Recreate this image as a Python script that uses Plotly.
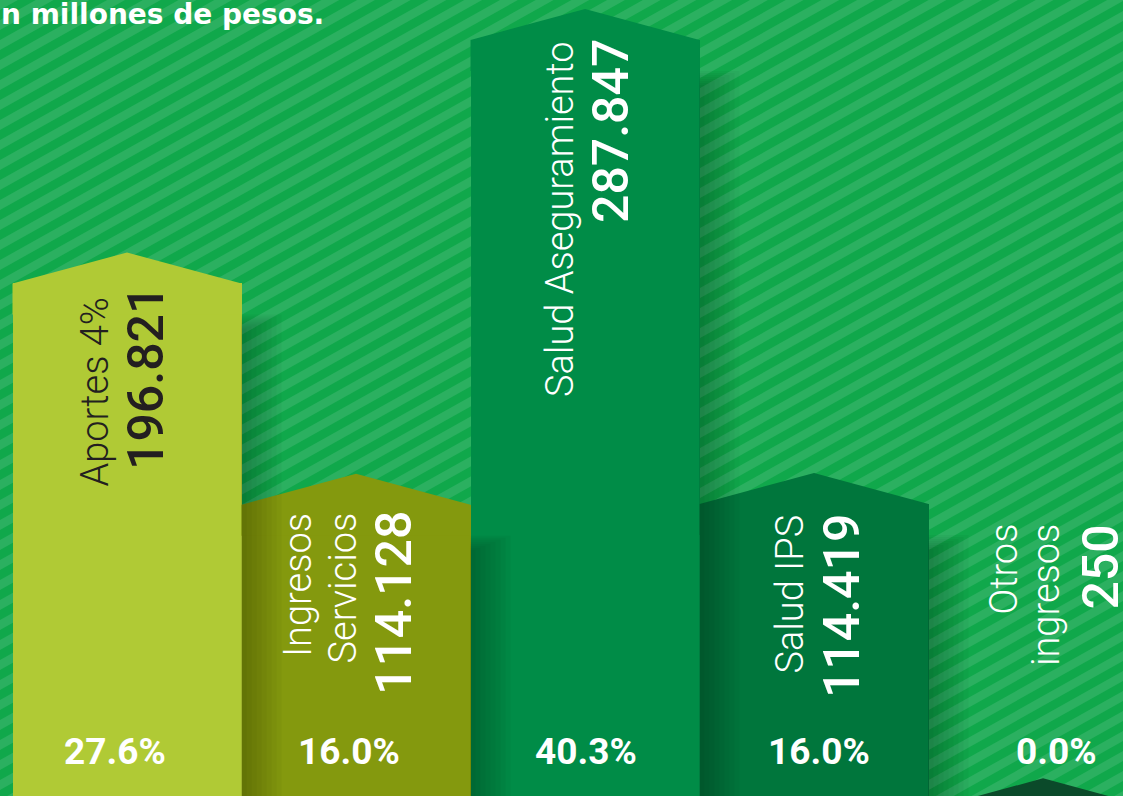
import plotly.graph_objects as go

# ---------------- data ----------------
categories = ["Aportes 4%", "Ingresos Servicios", "Salud Aseguramiento", "Salud IPS", "Otros ingresos"]
label_lines = [["Aportes 4%"], ["Ingresos", "Servicios"], ["Salud Aseguramiento"], ["Salud IPS"], ["Otros", "ingresos"]]
values = [196821, 114128, 287847, 114419, 250]
value_labels = ["196.821", "114.128", "287.847", "114.419", "250"]
shares = ["27.6%", "16.0%", "40.3%", "16.0%", "0.0%"]
title_text = "n millones de pesos."

# ---------------- styles / layout constants ----------------
bar_colors = ["#b0ca35", "#84990e", "#008c47", "#00763c", "#0b4a2a"]
text_colors = ["#231f20", "#ffffff", "#ffffff", "#ffffff", "#ffffff"]
BG_DARK = "#10a84b"
BG_LIGHT = "#2bb060"

W, H = 1123, 796
X_RANGE = [-0.5546, 4.349]
Y_RANGE = [5230, 302800]
UX = (X_RANGE[1] - X_RANGE[0]) / W   # data units per pixel (x)
UY = (Y_RANGE[1] - Y_RANGE[0]) / H   # data units per pixel (y)
ROOF = 31 * UY

# text placement (pixels relative to bar centre / from top)
label_dx = [[-33], [-58, -14], [-25], [-25], [-40, 3]]
number_dx = [19, 38, 26, 28, 57]
label_top = [297, 512, 40, 514, 523]
number_top = [285, 510, 38, 513, 524]
pct_dx = [-12, -7, 1, 5, 13]
PCT_Y = 751

xs = list(range(len(values)))

fig = go.Figure()

# bars
fig.add_trace(go.Bar(
    x=xs, y=values, width=1.0,
    marker=dict(color=bar_colors, line=dict(width=0)),
    hoverinfo="skip", showlegend=False,
))

# roofs (pointed tops)
for i, v in enumerate(values):
    fig.add_trace(go.Scatter(
        x=[i - 0.5, i - 0.5, i, i + 0.5, i + 0.5],
        y=[v - ROOF, v, v + ROOF, v, v - ROOF],
        fill="toself", fillcolor=bar_colors[i], mode="lines",
        line=dict(width=0), hoverinfo="skip", showlegend=False,
    ))

shapes = []

# diagonal stripes background
m = 0.56
P = 20.0
h = 10.0
parts = []
k = -2
while True:
    b = k * P
    if b - m * W > H + P:
        break
    pts = [(0, b), (W, b - m * W), (W, b - m * W + h), (0, b + h)]
    s = "M" + " L".join(f"{px / W:.5f},{1 - py / H:.5f}" for px, py in pts) + " Z"
    parts.append(s)
    k += 1
shapes.append(dict(type="path", xref="paper", yref="paper", path=" ".join(parts),
                   fillcolor=BG_LIGHT, line=dict(width=0), layer="below"))

# soft shadows to the right of each bar
for i, v in enumerate(values):
    top = v - ROOF
    if top <= Y_RANGE[0]:
        continue
    for j in range(1, 9):
        w = 5 * j
        shapes.append(dict(type="rect", xref="x", yref="y",
                           x0=i + 0.5, x1=i + 0.5 + w * UX,
                           y0=0, y1=top - (8 - j) * 2 * UY,
                           fillcolor="rgba(0,0,0,0.03)", line=dict(width=0), layer="above"))

annotations = []
label_font = dict(family="Roboto", size=38, weight=300)
number_font = dict(family="Roboto", size=50, weight=500)

for i in xs:
    for line, dx in zip(label_lines[i], label_dx[i]):
        annotations.append(dict(
            text=line, x=i + dx * UX, xref="x", y=1 - label_top[i] / H, yref="paper",
            xanchor="center", yanchor="top", textangle=-90, showarrow=False,
            borderpad=0, font=dict(color=text_colors[i], **label_font)))
    annotations.append(dict(
        text=value_labels[i], x=i + number_dx[i] * UX, xref="x", y=1 - number_top[i] / H, yref="paper",
        xanchor="center", yanchor="top", textangle=-90, showarrow=False,
        borderpad=0, font=dict(color=text_colors[i], **number_font)))
    annotations.append(dict(
        text=shares[i], x=i + pct_dx[i] * UX, xref="x", y=1 - PCT_Y / H, yref="paper",
        xanchor="center", yanchor="middle", showarrow=False, borderpad=0,
        font=dict(family="Roboto", size=37, weight=700, color="#ffffff")))

annotations.append(dict(
    text=title_text, x=0, xref="paper", y=1 - 15 / H, yref="paper",
    xanchor="left", yanchor="middle", showarrow=False, borderpad=0,
    font=dict(family="DejaVu Sans", size=28, weight=700, color="#ffffff")))

fig.update_layout(
    width=W, height=H,
    margin=dict(l=0, r=0, t=0, b=0),
    paper_bgcolor=BG_DARK, plot_bgcolor=BG_DARK,
    bargap=0,
    xaxis=dict(range=X_RANGE, visible=False, fixedrange=True),
    yaxis=dict(range=Y_RANGE, visible=False, fixedrange=True),
    shapes=shapes, annotations=annotations,
    showlegend=False,
)

fig.write_html(
    "out.html",
    config={"displayModeBar": False},
    post_script="document.body.style.margin='0';document.body.style.overflow='hidden';",
)
